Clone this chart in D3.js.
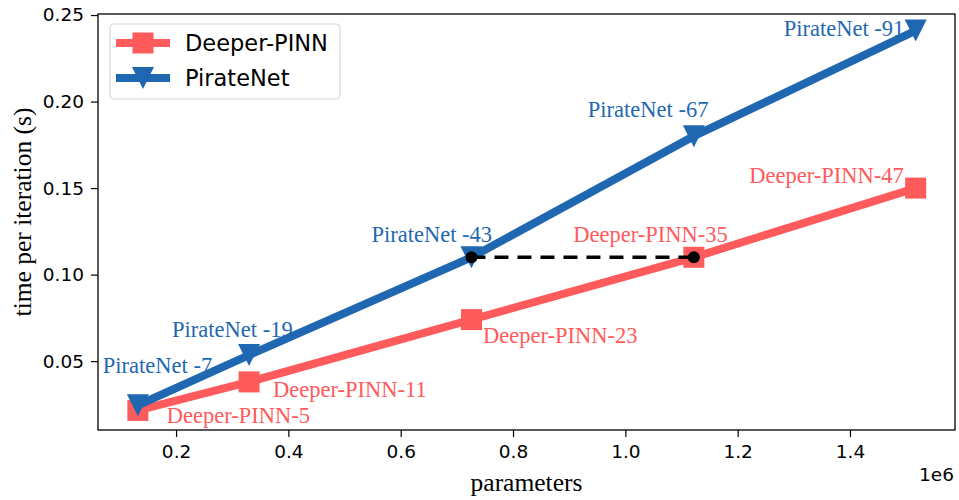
<!DOCTYPE html>
<html>
<head>
<meta charset="utf-8">
<script src="https://cdn.jsdelivr.net/npm/d3@7"></script>
<style>
  body { margin: 0; background: #fff; }
  .tick text { font-family: "DejaVu Sans", sans-serif; font-size: 18.5px; fill: #000; }
  .lbl { font-family: "Liberation Serif", "Times New Roman", serif; font-size: 22.5px; }
  .axlbl { font-family: "Liberation Serif", "Times New Roman", serif; font-size: 25.5px; }
</style>
</head>
<body>
<script>
// data
var params = [0.132e6, 0.330e6, 0.726e6, 1.122e6, 1.517e6];
var deeperTime = [0.0215, 0.038, 0.074, 0.110, 0.150];
var pirateTime = [0.0245, 0.0535, 0.110, 0.180, 0.241];
var deeperNames = ["Deeper-PINN-5", "Deeper-PINN-11", "Deeper-PINN-23", "Deeper-PINN-35", "Deeper-PINN-47"];
var pirateNames = ["PirateNet -7", "PirateNet -19", "PirateNet -43", "PirateNet -67", "PirateNet -91"];
var xTicks = [0.2e6, 0.4e6, 0.6e6, 0.8e6, 1.0e6, 1.2e6, 1.4e6];
var yTicks = [0.05, 0.10, 0.15, 0.20, 0.25];

var red = "#ff5a5c", blue = "#1f68b1";

var margin = { top: 14, right: 4, bottom: 70, left: 98 };
var width = 959 - margin.left - margin.right;
var height = 500 - margin.top - margin.bottom;

var svg = d3.select("body").append("svg")
    .attr("width", 959)
    .attr("height", 500);

var g = svg.append("g")
    .attr("transform", "translate(" + margin.left + "," + margin.top + ")");

var x = d3.scaleLinear().domain([0.061e6, 1.587e6]).range([0, width]);
var y = d3.scaleLinear().domain([0.0102, 0.2506]).range([height, 0]);

// axes
g.append("g")
    .attr("transform", "translate(0," + height + ")")
    .call(d3.axisBottom(x).tickValues(xTicks).tickSize(7).tickPadding(8)
        .tickFormat(function (d) { return (d / 1e6).toFixed(1); }))
    .call(function (a) { a.select(".domain").remove(); })
    .selectAll("line").attr("stroke-width", 1.2);

g.append("g")
    .call(d3.axisLeft(y).tickValues(yTicks).tickSize(7).tickPadding(7)
        .tickFormat(d3.format(".2f")))
    .call(function (a) { a.select(".domain").remove(); })
    .selectAll("line").attr("stroke-width", 1.2);

g.append("rect")
    .attr("width", width)
    .attr("height", height)
    .attr("fill", "none")
    .attr("stroke", "#000")
    .attr("stroke-width", 1.3);

// axis labels
svg.append("text")
    .attr("class", "axlbl")
    .attr("x", margin.left + width / 2)
    .attr("y", 491)
    .attr("text-anchor", "middle")
    .text("parameters");

svg.append("text")
    .attr("class", "axlbl")
    .attr("transform", "translate(31,212) rotate(-90)")
    .attr("text-anchor", "middle")
    .text("time per iteration (s)");

svg.append("text")
    .attr("x", 954)
    .attr("y", 481)
    .attr("text-anchor", "end")
    .style("font-family", "DejaVu Sans, sans-serif")
    .style("font-size", "18.5px")
    .text("1e6");

// lines
var line = d3.line()
    .x(function (d) { return x(d[0]); })
    .y(function (d) { return y(d[1]); });

var deeper = d3.zip(params, deeperTime);
var pirate = d3.zip(params, pirateTime);

var triDown = "M-11,-11L11,-11L0,11Z";

g.append("path")
    .datum(deeper)
    .attr("fill", "none")
    .attr("stroke", red)
    .attr("stroke-width", 8)
    .attr("d", line);

g.selectAll(".sq")
    .data(deeper)
    .enter().append("rect")
    .attr("x", function (d) { return x(d[0]) - 10.5; })
    .attr("y", function (d) { return y(d[1]) - 10.5; })
    .attr("width", 21)
    .attr("height", 21)
    .attr("fill", red);

g.append("path")
    .datum(pirate)
    .attr("fill", "none")
    .attr("stroke", blue)
    .attr("stroke-width", 8)
    .attr("d", line);

g.selectAll(".tri")
    .data(pirate)
    .enter().append("path")
    .attr("d", triDown)
    .attr("transform", function (d) { return "translate(" + x(d[0]) + "," + y(d[1]) + ")"; })
    .attr("fill", blue);

// dashed comparison
var cmp = [[params[2], pirateTime[2]], [params[3], deeperTime[3]]];
g.append("path")
    .datum(cmp)
    .attr("fill", "none")
    .attr("stroke", "#000")
    .attr("stroke-width", 3.5)
    .attr("stroke-dasharray", "14,9")
    .attr("d", line);

g.selectAll(".dot")
    .data(cmp)
    .enter().append("circle")
    .attr("cx", function (d) { return x(d[0]); })
    .attr("cy", function (d) { return y(d[1]); })
    .attr("r", 6)
    .attr("fill", "#000");

// point labels: left edge / baseline offset from the point, px
var pirateOff = [[-35, -32], [-77, -18], [-100, -15], [-106, -19.5], [-132, 5.5]];
var deeperOff = [[29, 12.5], [24, 15], [11.5, 23.5], [-120.5, -15], [-166.5, -5]];

g.selectAll(".plab")
    .data(pirate)
    .enter().append("text")
    .attr("class", "lbl")
    .attr("x", function (d, i) { return x(d[0]) + pirateOff[i][0]; })
    .attr("y", function (d, i) { return y(d[1]) + pirateOff[i][1]; })
    .attr("fill", blue)
    .text(function (d, i) { return pirateNames[i]; });

g.selectAll(".dlab")
    .data(deeper)
    .enter().append("text")
    .attr("class", "lbl")
    .attr("x", function (d, i) { return x(d[0]) + deeperOff[i][0]; })
    .attr("y", function (d, i) { return y(d[1]) + deeperOff[i][1]; })
    .attr("fill", red)
    .text(function (d, i) { return deeperNames[i]; });

// legend
var leg = svg.append("g").attr("transform", "translate(110,24)");
leg.append("rect")
    .attr("width", 230)
    .attr("height", 75)
    .attr("rx", 4)
    .attr("fill", "#fff")
    .attr("fill-opacity", 0.8)
    .attr("stroke", "#d6d6d6")
    .attr("stroke-width", 1.2);

var legItems = [["Deeper-PINN", red, "sq"], ["PirateNet", blue, "tri"]];
legItems.forEach(function (it, i) {
    var yy = 19 + i * 35;
    leg.append("line")
        .attr("x1", 6).attr("x2", 60)
        .attr("y1", yy).attr("y2", yy)
        .attr("stroke", it[1])
        .attr("stroke-width", 8);
    if (it[2] === "sq") {
        leg.append("rect")
            .attr("x", 22.5).attr("y", yy - 10.5)
            .attr("width", 21).attr("height", 21)
            .attr("fill", it[1]);
    } else {
        leg.append("path")
            .attr("d", triDown)
            .attr("transform", "translate(33," + yy + ")")
            .attr("fill", it[1]);
    }
    leg.append("text")
        .attr("x", 75)
        .attr("y", yy)
        .attr("dy", "0.36em")
        .style("font-family", "DejaVu Sans, sans-serif")
        .style("font-size", "22.5px")
        .text(it[0]);
});
</script>
</body>
</html>
